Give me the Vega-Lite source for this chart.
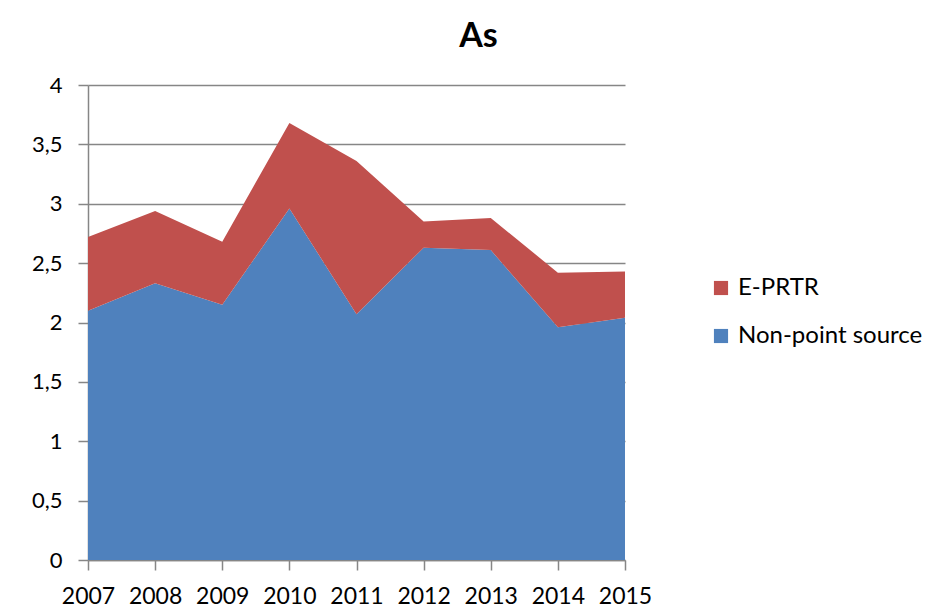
{
  "$schema": "https://vega.github.io/schema/vega-lite/v6.json",
  "autosize": "none",
  "width": 537,
  "height": 475,
  "padding": {"left": 88, "top": 85, "right": 322, "bottom": 53},
  "background": "white",
  "title": {
    "text": "As",
    "font": "Lato",
    "fontSize": 34,
    "fontWeight": "bold",
    "color": "black",
    "anchor": "middle",
    "frame": "group",
    "baseline": "alphabetic",
    "offset": -7,
    "dx": 122
  },
  "data": {
    "values": [
      {"year": 2007, "source": "Non-point source", "value": 2.10},
      {"year": 2008, "source": "Non-point source", "value": 2.33},
      {"year": 2009, "source": "Non-point source", "value": 2.15},
      {"year": 2010, "source": "Non-point source", "value": 2.96},
      {"year": 2011, "source": "Non-point source", "value": 2.07},
      {"year": 2012, "source": "Non-point source", "value": 2.63},
      {"year": 2013, "source": "Non-point source", "value": 2.61},
      {"year": 2014, "source": "Non-point source", "value": 1.96},
      {"year": 2015, "source": "Non-point source", "value": 2.04},
      {"year": 2007, "source": "E-PRTR", "value": 0.62},
      {"year": 2008, "source": "E-PRTR", "value": 0.61},
      {"year": 2009, "source": "E-PRTR", "value": 0.53},
      {"year": 2010, "source": "E-PRTR", "value": 0.72},
      {"year": 2011, "source": "E-PRTR", "value": 1.29},
      {"year": 2012, "source": "E-PRTR", "value": 0.22},
      {"year": 2013, "source": "E-PRTR", "value": 0.27},
      {"year": 2014, "source": "E-PRTR", "value": 0.46},
      {"year": 2015, "source": "E-PRTR", "value": 0.39}
    ]
  },
  "mark": {"type": "area", "opacity": 1},
  "encoding": {
    "x": {
      "field": "year",
      "type": "quantitative",
      "scale": {"domain": [2007, 2015], "nice": false, "zero": false},
      "axis": {
        "title": null,
        "values": [2007, 2008, 2009, 2010, 2011, 2012, 2013, 2014, 2015],
        "format": "d",
        "grid": false,
        "tickSize": 10,
        "tickColor": "#868686",
        "tickWidth": 1.5,
        "domainColor": "#868686",
        "domainWidth": 1.5,
        "labelFont": "Lato",
        "labelFontSize": 23,
        "labelColor": "black",
        "labelPadding": 15,
        "labelFlush": false,
        "labelOverlap": false
      }
    },
    "y": {
      "field": "value",
      "type": "quantitative",
      "stack": "zero",
      "scale": {"domain": [0, 4], "nice": false},
      "axis": {
        "title": null,
        "values": [0, 0.5, 1, 1.5, 2, 2.5, 3, 3.5, 4],
        "labelExpr": "replace(format(datum.value, '~g'), '.', ',')",
        "grid": true,
        "gridColor": "#868686",
        "gridWidth": 1.5,
        "tickSize": 10,
        "tickColor": "#868686",
        "tickWidth": 1.5,
        "domainColor": "#868686",
        "domainWidth": 1.5,
        "labelFont": "Lato",
        "labelFontSize": 22,
        "labelColor": "black",
        "labelPadding": 16
      }
    },
    "color": {
      "field": "source",
      "type": "nominal",
      "scale": {"domain": ["E-PRTR", "Non-point source"], "range": ["#C0504D", "#4F81BD"]},
      "legend": {
        "title": null,
        "orient": "none",
        "legendX": 621,
        "legendY": 191,
        "symbolType": "square",
        "symbolSize": 200,
        "symbolStrokeWidth": 0,
        "symbolOpacity": 1,
        "labelFont": "Lato",
        "labelFontSize": 24,
        "labelColor": "black",
        "labelOffset": 5,
        "labelLimit": 320,
        "rowPadding": 24
      }
    },
    "order": {"field": "source", "sort": "descending"}
  },
  "config": {"view": {"stroke": null}}
}
